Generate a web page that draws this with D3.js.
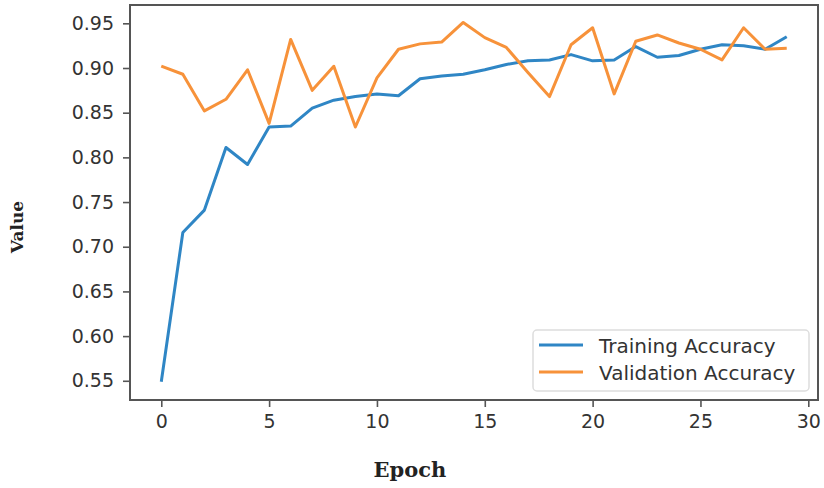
<!DOCTYPE html>
<html>
<head>
<meta charset="utf-8">
<script src="https://cdn.jsdelivr.net/npm/d3@7"></script>
<style>
  body { margin: 0; background: #fff; }
  svg text { font-family: "DejaVu Sans", sans-serif; }
</style>
</head>
<body>
<div id="chart"></div>
<script>
// values
const epochs = d3.range(30);
const trainingAcc = [0.549, 0.716, 0.741, 0.811, 0.792, 0.834, 0.835, 0.855, 0.864, 0.868,
  0.871, 0.869, 0.888, 0.891, 0.893, 0.898, 0.904, 0.908, 0.909, 0.915,
  0.908, 0.909, 0.924, 0.912, 0.914, 0.921, 0.926, 0.925, 0.921, 0.935];
const validationAcc = [0.902, 0.893, 0.852, 0.865, 0.898, 0.838, 0.932, 0.875, 0.902, 0.834,
  0.889, 0.921, 0.927, 0.929, 0.951, 0.934, 0.923, 0.895, 0.868, 0.926,
  0.945, 0.871, 0.930, 0.937, 0.928, 0.921, 0.909, 0.945, 0.921, 0.922];
const yTicks = [0.55, 0.60, 0.65, 0.70, 0.75, 0.80, 0.85, 0.90, 0.95];
const xTicks = [0, 5, 10, 15, 20, 25, 30];
const seriesNames = ['Training Accuracy', 'Validation Accuracy'];
const seriesColors = ['#2f86c5', '#f7923a'];

const width = 824, height = 488;
const plotL = 130, plotR = 818, plotT = 5, plotB = 400;

const svg = d3.select('#chart').append('svg')
  .attr('width', width)
  .attr('height', height);

const x = d3.scaleLinear().domain([-1.45, 30.45]).range([plotL, plotR]);
const y = d3.scaleLinear().domain([0.5285, 0.9705]).range([plotB, plotT]);

// axes
const xAxis = svg.append('g')
  .attr('transform', `translate(0,${plotB})`)
  .call(d3.axisBottom(x).tickValues(xTicks).tickFormat(d3.format('d')).tickSize(7).tickPadding(8));
const yAxis = svg.append('g')
  .attr('transform', `translate(${plotL},0)`)
  .call(d3.axisLeft(y).tickValues(yTicks).tickFormat(d3.format('.2f')).tickSize(7).tickPadding(9));

[xAxis, yAxis].forEach(a => {
  a.select('.domain').remove();
  a.selectAll('line').attr('stroke', '#555').attr('stroke-width', 1.6);
  a.selectAll('text').attr('fill', '#333').style('font-size', '19px');
});

// frame
svg.append('rect')
  .attr('x', plotL).attr('y', plotT)
  .attr('width', plotR - plotL).attr('height', plotB - plotT)
  .attr('fill', 'none').attr('stroke', '#555').attr('stroke-width', 2);

const line = d3.line().x((d, i) => x(epochs[i])).y(d => y(d));
[trainingAcc, validationAcc].forEach((s, k) => {
  svg.append('path')
    .datum(s)
    .attr('d', line)
    .attr('fill', 'none')
    .attr('stroke', seriesColors[k])
    .attr('stroke-width', 3)
    .attr('stroke-linejoin', 'round');
});

// legend
const lg = svg.append('g').attr('transform', 'translate(533,330)');
lg.append('rect')
  .attr('width', 276).attr('height', 61).attr('rx', 4)
  .attr('fill', '#fff').attr('stroke', '#ddd').attr('stroke-width', 1.5);
seriesNames.forEach((name, k) => {
  const row = lg.append('g').attr('transform', `translate(0,${15 + k * 27})`);
  row.append('line')
    .attr('x1', 6).attr('x2', 50)
    .attr('stroke', seriesColors[k]).attr('stroke-width', 3);
  row.append('text')
    .attr('x', 66).attr('dy', '0.4em')
    .attr('fill', '#333')
    .style('font-size', '20px')
    .text(name);
});

// axis titles
svg.append('text')
  .attr('transform', 'translate(23,227) rotate(-90)')
  .attr('text-anchor', 'middle')
  .style('font-family', '"DejaVu Serif", serif')
  .style('font-size', '17px')
  .style('font-weight', 'bold')
  .attr('fill', '#222')
  .text('Value');
svg.append('text')
  .attr('x', 410).attr('y', 477)
  .attr('text-anchor', 'middle')
  .style('font-family', '"DejaVu Serif", serif')
  .style('font-size', '21px')
  .style('font-weight', 'bold')
  .attr('fill', '#222')
  .text('Epoch');
</script>
</body>
</html>
